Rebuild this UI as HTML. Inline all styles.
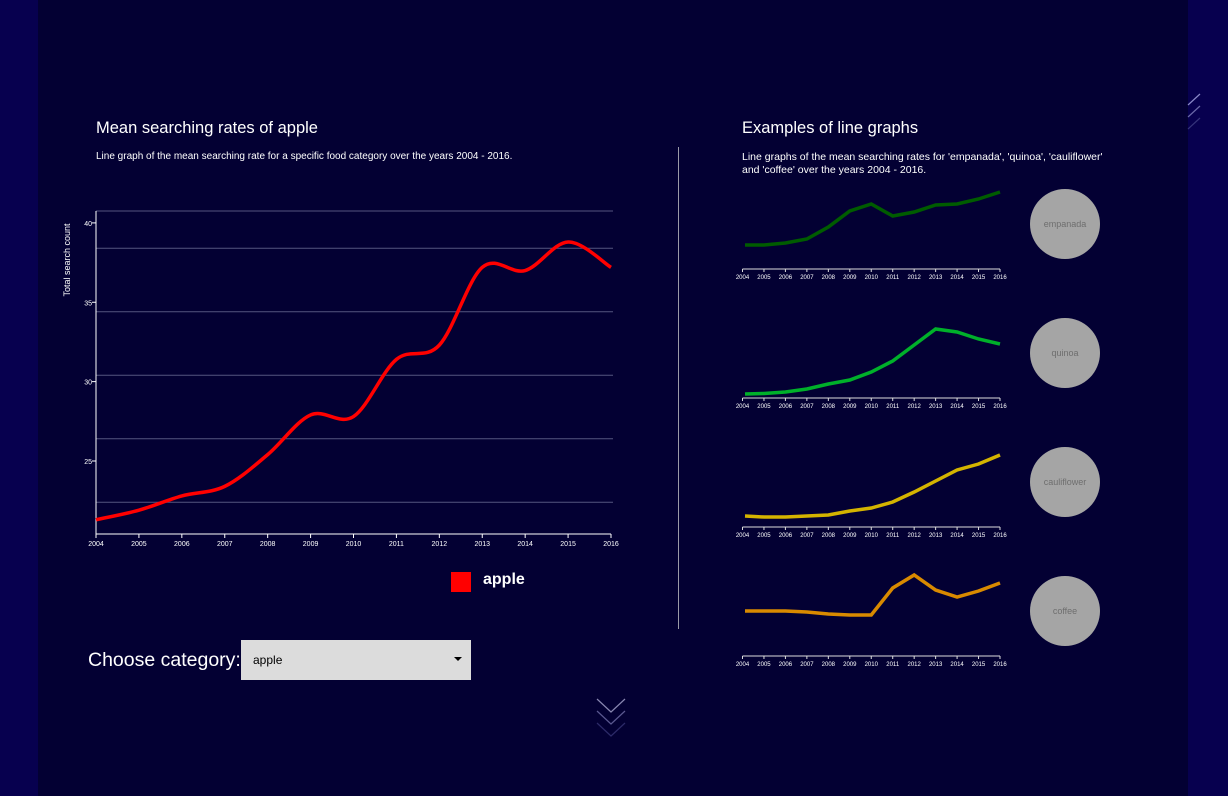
<!DOCTYPE html>
<html><head><meta charset="utf-8">
<style>
html,body{margin:0;padding:0;}
body{width:1228px;height:796px;background:#030033;position:relative;overflow:hidden;font-family:"Liberation Sans",sans-serif;color:#fff;}
.strip{position:absolute;top:0;height:796px;background:#07004f;}
.t{position:absolute;white-space:nowrap;}
</style></head>
<body>
<div class="strip" style="left:0;width:38px"></div>
<div class="strip" style="left:1188px;width:40px"></div>
<svg style="position:absolute;left:1186px;top:92px" width="20" height="42">
<line x1="2" y1="13" x2="14" y2="2" stroke="#8a88c8" stroke-width="1.2"/>
<line x1="2" y1="25" x2="14" y2="14" stroke="#6a68a8" stroke-width="1.2"/>
<line x1="2" y1="37" x2="14" y2="26" stroke="#35337a" stroke-width="1.2"/>
</svg>

<div class="t" style="left:96px;top:119px;font-size:16.5px">Mean searching rates of apple</div>
<div class="t" style="left:96px;top:151px;font-size:10px">Line graph of the mean searching rate for a specific food category over the years 2004 - 2016.</div>

<div class="t" style="left:742px;top:119px;font-size:16.5px">Examples of line graphs</div>
<div class="t" style="left:742px;top:151px;font-size:10.5px;line-height:13px">Line graphs of the mean searching rates for 'empanada', 'quinoa', 'cauliflower'<br>and 'coffee' over the years 2004 - 2016.</div>

<div style="position:absolute;left:678px;top:147px;width:1px;height:482px;background:#9a9aa8"></div>

<svg id="main" style="position:absolute;left:0;top:0" width="680" height="560"></svg>
<svg id="small" style="position:absolute;left:720px;top:170px" width="420" height="510"></svg>

<div style="position:absolute;left:451px;top:572px;width:20px;height:20px;background:#f00"></div>
<div class="t" style="left:483px;top:571px;font-size:16px;font-weight:bold">apple</div>

<div class="t" style="left:88px;top:649px;font-size:19.5px">Choose category:</div>
<div style="position:absolute;left:241px;top:640px;width:230px;height:40px;background:#dcdcdc;color:#000;font-size:12px">
<span style="position:absolute;left:12px;top:13px">apple</span>
<span style="position:absolute;right:9px;top:17px;width:0;height:0;border-left:4px solid transparent;border-right:4px solid transparent;border-top:4px solid #000"></span>
</div>

<svg style="position:absolute;left:595px;top:697px" width="32" height="44">
<polyline points="2,2 16,15 30,2" fill="none" stroke="#8886b0" stroke-width="1.2"/>
<polyline points="2,14 16,27 30,14" fill="none" stroke="#5a5890" stroke-width="1.2"/>
<polyline points="2,26 16,39 30,26" fill="none" stroke="#2c2a68" stroke-width="1.2"/>
</svg>

<script>
const years=[2004,2005,2006,2007,2008,2009,2010,2011,2012,2013,2014,2015,2016];
const appleValues=[21.3,21.9,22.8,23.4,25.4,27.9,27.8,31.4,32.3,37.2,37.0,38.8,37.2];
const yTicks=[25,30,35,40];
const gridValues=[22.4,26.4,30.4,34.4,38.4,40.75];
const seriesNames=['empanada','quinoa','cauliflower','coffee'];
const empanada=[24,24,26,30,42,58,65,53,57,64,65,70,77];
const quinoa=[4,4.5,6,9,14,18,26,37,53,69,66,59,54];
const cauliflower=[11,10,10,11,12,16,19,25,35,46,57,63,72];
const coffee=[45,45,45,44,42,41,41,68,81,66,59,65,73];

const NS='http://www.w3.org/2000/svg';
function mk(parent,tag,attrs){const e=document.createElementNS(NS,tag);for(const k in attrs)e.setAttribute(k,attrs[k]);parent.appendChild(e);return e;}

const m=document.getElementById('main');
const x0=96,x1=611,yMin=20.4,yMax=40.75,py0=534,py1=211;
const xs=y=>x0+(y-years[0])/(years[years.length-1]-years[0])*(x1-x0);
const ys=v=>py0-(v-yMin)/(yMax-yMin)*(py0-py1);
gridValues.forEach(g=>{const l=mk(m,'line',{x1:x0,x2:x1+2,y1:ys(g),y2:ys(g),stroke:'#55557f','stroke-width':1});

});
const ya=mk(m,'line',{x1:x0,x2:x0,y1:py1,y2:py0,stroke:'#fff','stroke-width':1});


const xa=mk(m,'line',{x1:x0,x2:x1,y1:py0,y2:py0,stroke:'#fff','stroke-width':1});


yTicks.forEach(t=>{mk(m,'line',{x1:x0-4,x2:x0,y1:ys(t),y2:ys(t),stroke:'#fff'});
const tx=mk(m,'text',{x:x0-4,y:ys(t)+3,'text-anchor':'end','font-size':7,fill:'#fff'});tx.textContent=t;

});
years.forEach(y=>{mk(m,'line',{x1:xs(y),x2:xs(y),y1:py0,y2:py0+4,stroke:'#fff'});
const tx=mk(m,'text',{x:xs(y),y:py0+12,'text-anchor':'middle','font-size':7,fill:'#fff'});tx.textContent=y;

});
const yt=mk(m,'text',{transform:'translate(70,260) rotate(-90)','text-anchor':'middle','font-size':9,fill:'#fff'});yt.textContent='Total search count';


const pts=years.map((y,i)=>[xs(y),ys(appleValues[i])]);
let d='M'+pts[0][0]+','+pts[0][1];
for(let i=0;i<pts.length-1;i++){const p0=pts[i-1]||pts[i],p1=pts[i],p2=pts[i+1],p3=pts[i+2]||p2;
d+=' C'+(p1[0]+(p2[0]-p0[0])/6)+','+(p1[1]+(p2[1]-p0[1])/6)+' '+(p2[0]-(p3[0]-p1[0])/6)+','+(p2[1]-(p3[1]-p1[1])/6)+' '+p2[0]+','+p2[1];}
const ap=mk(m,'path',{d:d,fill:'none',stroke:'#f00','stroke-width':3.5});



const s=document.getElementById('small');
const sData=[empanada,quinoa,cauliflower,coffee];
const sColors=['#005c00','#00b02a','#d4b400','#d98a00'];
const sx0=22.5,sx1=280;
const sxs=y=>sx0+(y-years[0])/(years[years.length-1]-years[0])*(sx1-sx0);
sData.forEach((vals,k)=>{
  const base=99+k*129;
  const sys=v=>base-v;
  const ax=mk(s,'line',{x1:sx0,x2:sx1,y1:base,y2:base,stroke:'#ddd','stroke-width':1});
  
  
  years.forEach(y=>{mk(s,'line',{x1:sxs(y),x2:sxs(y),y1:base,y2:base+3,stroke:'#ddd'});
    const tx=mk(s,'text',{x:sxs(y),y:base+10,'text-anchor':'middle','font-size':6,fill:'#fff'});tx.textContent=y;
    
    });
  const p=mk(s,'polyline',{points:years.map((y,i)=>Math.max(sxs(y),sx0+2.5)+','+sys(vals[i])).join(' '),fill:'none',stroke:sColors[k],'stroke-width':3.5});
  
  
  const c=mk(s,'circle',{cx:345,cy:54+k*129,r:35,fill:'#a5a5a5'});
  
  
  const t=mk(s,'text',{x:345,y:57+k*129,'text-anchor':'middle','font-size':9,fill:'#6e6e6e'});t.textContent=seriesNames[k];
  
  
});
</script>
</body></html>
